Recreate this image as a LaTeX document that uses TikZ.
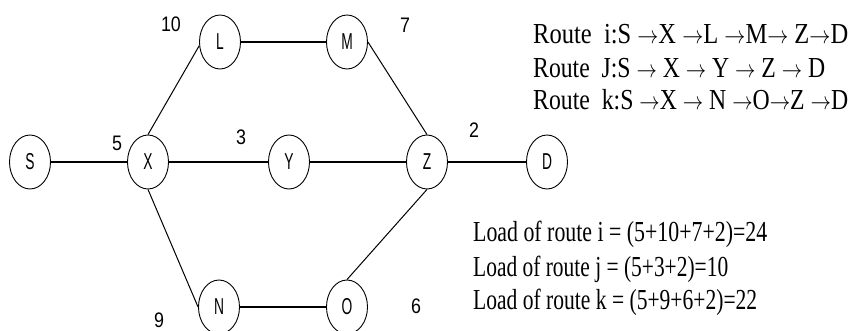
\documentclass[tikz,border=0pt]{standalone}
\usepackage{fontspec}
\setmainfont{Liberation Serif}
\newfontfamily\lsans{Liberation Sans}
\usetikzlibrary{shapes.geometric}
\newcommand\fitw[2]{\resizebox{#1}{\height}{#2}}
\newcommand\ar{\ensuremath{\rightarrow}}
\begin{document}
\begin{tikzpicture}[x=1pt,y=-1pt,
  vertex/.style={draw=black,line width=0.9pt,ellipse,minimum width=41pt,minimum height=54pt,inner sep=0pt,
    font=\lsans\fontsize{23}{23}\selectfont},
  link/.style={draw=black,line width=1pt},
  hlink/.style={draw=black,line width=1.4pt},
  weight/.style={inner sep=0pt,font=\lsans\fontsize{21}{21}\selectfont},
  info/.style={inner sep=0pt,anchor=base west,font=\fontsize{29}{29}\selectfont}]
\useasboundingbox (0,0) rectangle (855,331);
\fill[white] (0,0) rectangle (855,331);
% nodes
\node[vertex] (S) at (30,162) {\scalebox{0.6}[1]{S}};
\node[vertex] (X) at (148,162) {\scalebox{0.6}[1]{X}};
\node[vertex] (Y) at (289,162) {\scalebox{0.6}[1]{Y}};
\node[vertex] (Z) at (427,162) {\scalebox{0.6}[1]{Z}};
\node[vertex] (D) at (547,162) {\scalebox{0.6}[1]{D}};
\node[vertex] (L) at (220,42) {\scalebox{0.6}[1]{L}};
\node[vertex] (M) at (347,42) {\scalebox{0.6}[1]{M}};
\node[vertex] (N) at (219,307) {\scalebox{0.6}[1]{N}};
\node[vertex] (O) at (347,307) {\scalebox{0.6}[1]{O}};
% edges
\draw[hlink] (S) -- (X);
\draw[hlink] (X) -- (Y);
\draw[hlink] (Y) -- (Z);
\draw[hlink] (Z) -- (D);
\draw[hlink] (L) -- (M);
\draw[hlink] (N) -- (O);
\draw[link] (X.north) -- (L.190);
\draw[link] (M.east) -- (Z.north);
\draw[link] (X.south) -- (N.west);
\draw[link] (O.north) -- (Z.south);
% weights
\node[weight] (w10) at (171,24) {\scalebox{0.85}[1]{10}};
\node[weight] (w7) at (405,25) {\scalebox{0.85}[1]{7}};
\node[weight] (w5) at (117,143) {\scalebox{0.85}[1]{5}};
\node[weight] (w3) at (241,137) {\scalebox{0.85}[1]{3}};
\node[weight] (w2) at (474,130) {\scalebox{0.85}[1]{2}};
\node[weight] (w9) at (159,320) {\scalebox{0.85}[1]{9}};
\node[weight] (w6) at (416,306) {\scalebox{0.85}[1]{6}};
% routes
\node[info] (r1) at (533,44) {\fitw{315pt}{Route\ \ i:S \ar X \ar L \ar M\ar\ Z\ar D}};
\node[info] (r2) at (533,78) {\fitw{292pt}{Route\ \ J:S \ar\ X \ar\ Y \ar\ Z \ar\ D}};
\node[info] (r3) at (533,110) {\fitw{315pt}{Route\ \ k:S \ar X \ar\ N \ar O\ar Z \ar D}};
% loads
\node[info] (l1) at (473,242) {\fitw{294pt}{Load of route i = (5+10+7+2)=24}};
\node[info] (l2) at (473,277) {\fitw{255pt}{Load of route j = (5+3+2)=10}};
\node[info] (l3) at (473,309) {\fitw{284pt}{Load of route k = (5+9+6+2)=22}};
\end{tikzpicture}
\end{document}
